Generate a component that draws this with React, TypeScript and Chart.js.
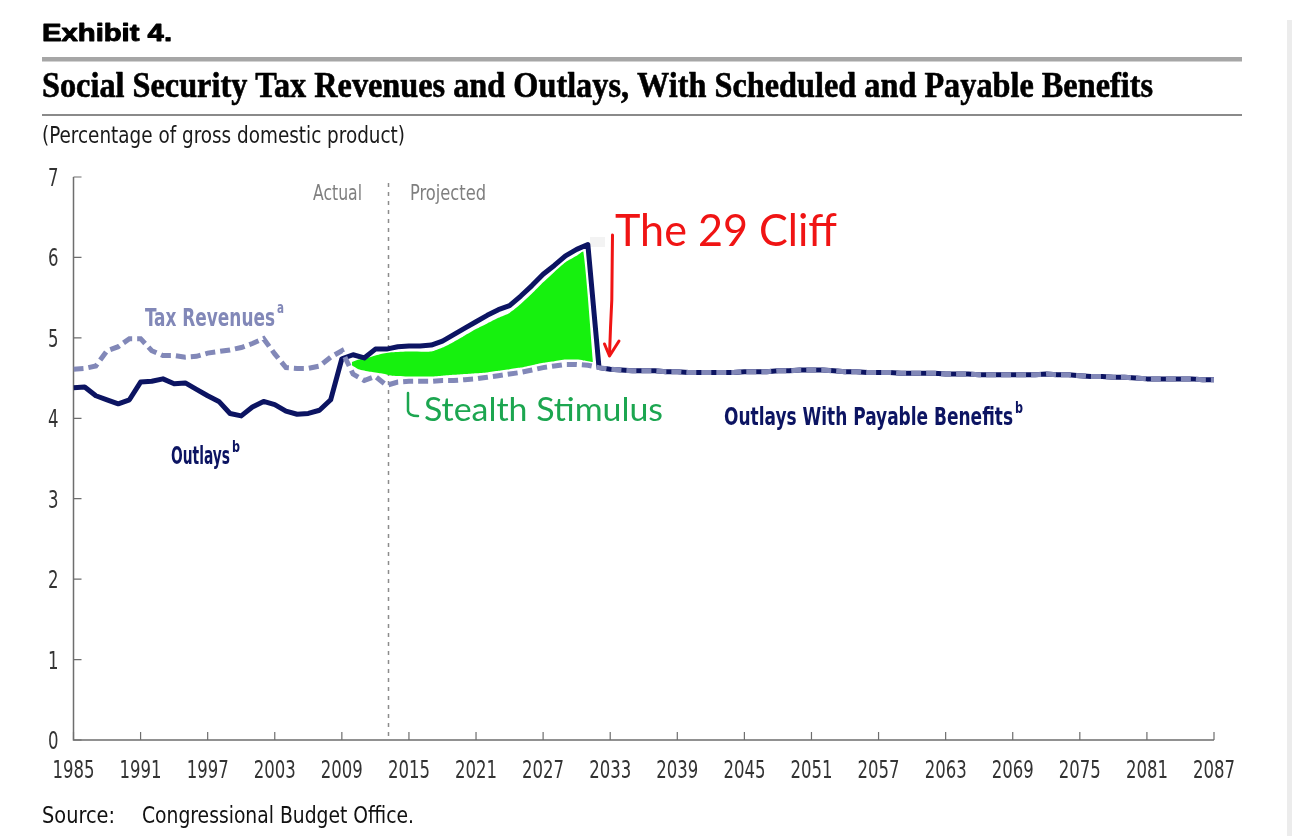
import React, { useEffect, useRef } from 'react';
import { Chart, registerables } from 'chart.js';

Chart.register(...registerables);

// ---------------- DATA ----------------
const START_YEAR = 1985;
const xTickYears = [1985, 1991, 1997, 2003, 2009, 2015, 2021, 2027, 2033, 2039, 2045, 2051, 2057, 2063, 2069, 2075, 2081, 2087];
const yTickValues = [0, 1, 2, 3, 4, 5, 6, 7];
const dividerYear = 2013.1;

// Outlays (scheduled benefits), 1985–2032
const outlaysThrough2032 = [
  4.38, 4.39, 4.28, 4.23, 4.18, 4.23, 4.45, 4.46, 4.49, 4.43,
  4.44, 4.36, 4.28, 4.21, 4.06, 4.03, 4.14, 4.21, 4.17, 4.09,
  4.05, 4.06, 4.10, 4.23, 4.74, 4.79, 4.75, 4.86, 4.86, 4.89,
  4.90, 4.90, 4.91, 4.96, 5.04, 5.12, 5.20, 5.28, 5.35, 5.40,
  5.52, 5.65, 5.79, 5.90, 6.02, 6.10, 6.16, 4.63,
];

// Tax revenues, 1985–2032
const taxRevenuesThrough2032 = [
  4.61, 4.62, 4.65, 4.84, 4.89, 4.99, 4.99, 4.84, 4.78, 4.78,
  4.76, 4.77, 4.81, 4.83, 4.85, 4.88, 4.93, 4.99, 4.80, 4.63,
  4.62, 4.62, 4.65, 4.76, 4.84, 4.55, 4.47, 4.52, 4.41, 4.45,
  4.46, 4.46, 4.46, 4.47, 4.47, 4.48, 4.49, 4.51, 4.53, 4.55,
  4.57, 4.60, 4.63, 4.65, 4.67, 4.67, 4.66, 4.63,
];

// Outlays with payable benefits = tax revenues, 2033–2087
const payableTail = [
  4.61, 4.60, 4.59, 4.59, 4.59, 4.58, 4.58, 4.57, 4.57, 4.57,
  4.57, 4.57, 4.58, 4.58, 4.58, 4.59, 4.59, 4.60, 4.60, 4.60,
  4.59, 4.58, 4.58, 4.57, 4.57, 4.57, 4.56, 4.56, 4.56, 4.56,
  4.55, 4.55, 4.55, 4.54, 4.54, 4.54, 4.54, 4.54, 4.54, 4.55,
  4.54, 4.54, 4.53, 4.52, 4.52, 4.51, 4.51, 4.50, 4.49, 4.49,
  4.49, 4.49, 4.49, 4.48, 4.48,
];

// Hand-drawn green "Stealth Stimulus" area
const greenYears = [2009.9, 2010.5, 2011.5, 2012.5, 2013.5, 2015, 2017, 2018, 2019, 2020, 2021, 2022, 2023, 2024, 2025, 2026, 2027, 2028, 2029, 2030, 2030.6, 2031.45];
const greenTop = [4.70, 4.73, 4.76, 4.80, 4.82, 4.83, 4.83, 4.88, 4.95, 5.03, 5.11, 5.18, 5.25, 5.31, 5.42, 5.55, 5.69, 5.82, 5.94, 6.02, 6.07, 4.72];
const greenBottom = [4.66, 4.61, 4.58, 4.56, 4.53, 4.52, 4.52, 4.53, 4.54, 4.55, 4.56, 4.57, 4.59, 4.61, 4.63, 4.66, 4.69, 4.71, 4.73, 4.73, 4.72, 4.70];

// ---------------- STYLE ----------------
const NAVY = '#0c1462';
const TAX = '#8288b8';
const GREEN_FILL = '#16f10e';
const GREEN_TEXT = '#1ca650';
const RED = '#f01414';
const AXIS = '#6e6e6e';
const TICK_TEXT = '#333333';
const NARROW = "'Liberation Sans Narrow', 'DejaVu Sans Condensed', 'DejaVu Sans', sans-serif";
const TICK_FONT = `24px ${NARROW}`;

const toPoints = (values: number[], start: number) => values.map((v, i) => ({ x: start + i, y: v }));
const pairPoints = (xs: number[], ys: number[]) => xs.map((x, i) => ({ x, y: ys[i] }));

function fitText(ctx: CanvasRenderingContext2D, text: string, x: number, baseline: number, font: string, width: number, color: string, bolden = 0) {
  ctx.save();
  ctx.font = font;
  const w = ctx.measureText(text).width || 1;
  ctx.translate(x, baseline);
  ctx.scale(width / w, 1);
  ctx.fillStyle = color;
  ctx.textAlign = 'left';
  ctx.textBaseline = 'alphabetic';
  ctx.fillText(text, 0, 0);
  if (bolden > 0) {
    ctx.strokeStyle = color;
    ctx.lineWidth = bolden;
    ctx.lineJoin = 'round';
    ctx.strokeText(text, 0, 0);
  }
  ctx.restore();
}

// draws text compressed horizontally by factor k, aligned left/center/right at x
function squeezedText(ctx: CanvasRenderingContext2D, text: string, x: number, baseline: number, k: number, align: 'left' | 'center' | 'right') {
  const w = ctx.measureText(text).width * k;
  const left = align === 'left' ? x : align === 'center' ? x - w / 2 : x - w;
  ctx.save();
  ctx.translate(left, baseline);
  ctx.scale(k, 1);
  ctx.textAlign = 'left';
  ctx.fillText(text, 0, 0);
  ctx.restore();
}

const decorPlugin = {
  id: 'decor',
  beforeDatasetsDraw(chart: any) {
    const { ctx, chartArea } = chart;
    const xs = chart.scales.x;
    const ys = chart.scales.y;
    ctx.save();
    // light patch near peak
    ctx.fillStyle = '#f3f3f3';
    ctx.fillRect(590, 237, 15, 10);
    // divider actual / projected
    const dx = Math.round(xs.getPixelForValue(dividerYear)) + 0.5;
    ctx.strokeStyle = '#8c8c8c';
    ctx.lineWidth = 1.5;
    ctx.setLineDash([4, 5]);
    ctx.beginPath();
    ctx.moveTo(dx, 183);
    ctx.lineTo(dx, chartArea.bottom);
    ctx.stroke();
    ctx.setLineDash([]);
    // axes
    ctx.strokeStyle = AXIS;
    ctx.lineWidth = 1.5;
    ctx.beginPath();
    ctx.moveTo(chartArea.left, ys.getPixelForValue(7));
    ctx.lineTo(chartArea.left, chartArea.bottom);
    ctx.lineTo(xs.getPixelForValue(2087), chartArea.bottom);
    ctx.stroke();
    ctx.lineWidth = 1.2;
    ctx.beginPath();
    ys.ticks.forEach((t: any) => {
      const py = ys.getPixelForValue(t.value);
      ctx.moveTo(chartArea.left, py);
      ctx.lineTo(chartArea.left + 8, py);
    });
    xs.ticks.forEach((t: any) => {
      const px = xs.getPixelForValue(t.value);
      ctx.moveTo(px, chartArea.bottom);
      ctx.lineTo(px, chartArea.bottom - 8);
    });
    ctx.stroke();
    ctx.restore();
  },
  afterDraw(chart: any) {
    const { ctx, chartArea } = chart;
    const xs = chart.scales.x;
    const ys = chart.scales.y;
    ctx.save();
    // tick labels (condensed) placed by the scales
    ctx.font = TICK_FONT;
    ctx.fillStyle = TICK_TEXT;
    ctx.textBaseline = 'alphabetic';
    const k = 42 / (ctx.measureText('1985').width || 42);
    xs.ticks.forEach((t: any) => {
      squeezedText(ctx, String(t.value), xs.getPixelForValue(t.value), chartArea.bottom + 38, k, 'center');
    });
    ys.ticks.forEach((t: any) => {
      squeezedText(ctx, String(t.value), chartArea.left - 15, ys.getPixelForValue(t.value) + 9, k, 'right');
    });

    // header
    fitText(ctx, 'Exhibit 4.', 42, 41, "bold 23px 'Liberation Sans', Arial, sans-serif", 130, '#000', 0.9);
    ctx.fillStyle = '#a6a6a6';
    ctx.fillRect(42, 57, 1200, 4.5);
    fitText(ctx, 'Social Security Tax Revenues and Outlays, With Scheduled and Payable Benefits', 42, 97, "bold 35px 'Liberation Serif', 'DejaVu Serif', serif", 1111, '#000', 0.6);
    ctx.fillStyle = '#8a8a8a';
    ctx.fillRect(42, 114, 1200, 2);
    fitText(ctx, '(Percentage of gross domestic product)', 42, 143, `23px ${NARROW}`, 363, '#1a1a1a');
    // right page edge
    ctx.fillStyle = '#ececec';
    ctx.fillRect(1287, 20, 5, 816);
    // actual / projected
    fitText(ctx, 'Actual', 313, 200, `21px ${NARROW}`, 49, '#7f7f7f');
    fitText(ctx, 'Projected', 410, 200, `21px ${NARROW}`, 76, '#7f7f7f');
    // series labels
    fitText(ctx, 'Tax Revenues', 145, 326, `bold 25px ${NARROW}`, 130, TAX);
    fitText(ctx, 'a', 277, 313, `bold 15px ${NARROW}`, 7, TAX);
    fitText(ctx, 'Outlays', 171, 464, `bold 24px ${NARROW}`, 59, NAVY);
    fitText(ctx, 'b', 232, 452, `bold 15px ${NARROW}`, 8, NAVY);
    fitText(ctx, 'Outlays With Payable Benefits', 724, 425, `bold 24px ${NARROW}`, 289, NAVY);
    fitText(ctx, 'b', 1015, 413, `bold 15px ${NARROW}`, 8, NAVY);
    // annotations
    fitText(ctx, 'The 29 Cliff', 615, 246, "44px Lato, 'Open Sans', sans-serif", 222, RED);
    fitText(ctx, 'Stealth Stimulus', 424, 421, "33px Lato, 'Open Sans', sans-serif", 239, GREEN_TEXT);
    // red arrow
    ctx.strokeStyle = RED;
    ctx.lineWidth = 3;
    ctx.lineCap = 'round';
    ctx.lineJoin = 'round';
    ctx.beginPath();
    ctx.moveTo(612.5, 235);
    ctx.lineTo(612.2, 262);
    ctx.lineTo(611.8, 300);
    ctx.lineTo(610.5, 328);
    ctx.lineTo(609.5, 355);
    ctx.stroke();
    ctx.beginPath();
    ctx.moveTo(604.5, 344);
    ctx.lineTo(609.5, 356);
    ctx.lineTo(619, 341);
    ctx.stroke();
    // green hook
    ctx.strokeStyle = GREEN_TEXT;
    ctx.lineWidth = 2.5;
    ctx.beginPath();
    ctx.moveTo(408, 393);
    ctx.lineTo(408, 411);
    ctx.quadraticCurveTo(409, 416, 418, 416);
    ctx.stroke();
    // source
    fitText(ctx, 'Source:', 42, 823, `23px ${NARROW}`, 73, '#111');
    fitText(ctx, 'Congressional Budget Office.', 142, 823, `23px ${NARROW}`, 272, '#111');
    ctx.restore();
  },
};

export default function App() {
  const canvasRef = useRef<HTMLCanvasElement>(null);

  useEffect(() => {
    const canvas = canvasRef.current;
    if (!canvas) return;
    const outlays = toPoints([...outlaysThrough2032, ...payableTail], START_YEAR);
    const tax = toPoints([...taxRevenuesThrough2032, ...payableTail], START_YEAR);

    const chart = new Chart(canvas, {
      type: 'line',
      data: {
        datasets: [
          {
            label: 'Tax Revenues',
            data: tax,
            borderColor: TAX,
            borderWidth: 5,
            borderDash: [10, 5],
            borderCapStyle: 'butt',
            pointRadius: 0,
            tension: 0,
            fill: false,
            order: 0,
          },
          {
            label: 'Outlays',
            data: outlays,
            borderColor: NAVY,
            borderWidth: 5,
            borderJoinStyle: 'round',
            pointRadius: 0,
            tension: 0,
            fill: false,
            order: 1,
          },
          {
            label: 'Stealth top',
            data: pairPoints(greenYears, greenTop),
            borderWidth: 0,
            borderColor: 'rgba(0,0,0,0)',
            backgroundColor: GREEN_FILL,
            pointRadius: 0,
            tension: 0.2,
            fill: '+1',
            order: 2,
          },
          {
            label: 'Stealth bottom',
            data: pairPoints(greenYears, greenBottom),
            borderWidth: 0,
            borderColor: 'rgba(0,0,0,0)',
            pointRadius: 0,
            tension: 0.2,
            fill: false,
            order: 3,
          },
        ],
      } as any,
      options: {
        animation: false,
        responsive: false,
        devicePixelRatio: 1,
        events: [],
        layout: { padding: { left: 13.5, right: 78, top: 177, bottom: 46 } },
        plugins: {
          legend: { display: false },
          tooltip: { enabled: false },
        },
        scales: {
          x: {
            type: 'linear',
            min: 1985,
            max: 2087,
            grid: { display: false, drawTicks: false },
            border: { display: false },
            afterBuildTicks: (s: any) => {
              s.ticks = xTickYears.map((v) => ({ value: v }));
            },
            afterFit: (s: any) => {
              s.height = 50;
            },
            ticks: { display: false, autoSkip: false, maxRotation: 0 },
          },
          y: {
            min: 0,
            max: 7,
            grid: { display: false, drawTicks: false },
            border: { display: false },
            afterBuildTicks: (s: any) => {
              s.ticks = yTickValues.map((v) => ({ value: v }));
            },
            afterFit: (s: any) => {
              s.width = 60;
            },
            ticks: { display: false },
          },
        },
      } as any,
      plugins: [decorPlugin as any],
    });
    return () => chart.destroy();
  }, []);

  return (
    <div style={{ position: 'absolute', left: 0, top: 0, width: 1292, height: 836, background: '#fff' }}>
      <canvas ref={canvasRef} width={1292} height={836} style={{ display: 'block', width: 1292, height: 836 }} />
    </div>
  );
}
